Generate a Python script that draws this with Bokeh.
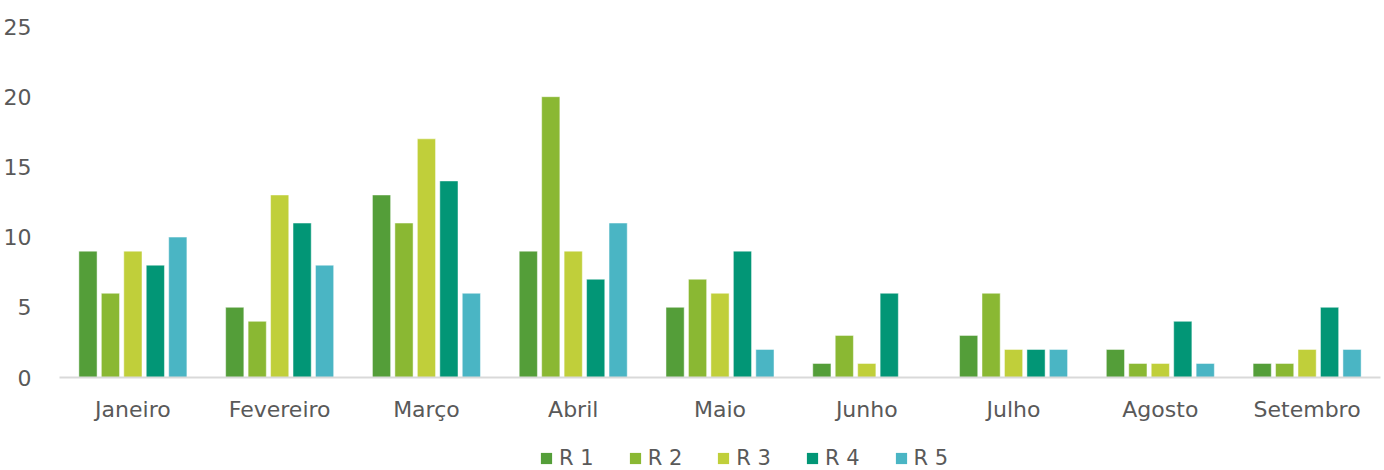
from bokeh.plotting import figure
from bokeh.models import FactorRange, Legend, LegendItem, ColumnDataSource
from bokeh.layouts import column
from bokeh.transform import dodge
from bokeh.embed import file_html
from bokeh.resources import INLINE

months = ["Janeiro", "Fevereiro", "Março", "Abril", "Maio", "Junho", "Julho", "Agosto", "Setembro"]
series_names = ["R 1", "R 2", "R 3", "R 4", "R 5"]
r1 = [9, 5, 13, 9, 5, 1, 3, 2, 1]
r2 = [6, 4, 11, 20, 7, 3, 6, 1, 1]
r3 = [9, 13, 17, 9, 6, 1, 2, 1, 2]
r4 = [8, 11, 14, 7, 9, 6, 2, 4, 5]
r5 = [10, 8, 6, 11, 2, 0, 2, 1, 2]
y_ticks = [0, 5, 10, 15, 20, 25]

colors = ["#549E39", "#8AB833", "#C0CF3A", "#029676", "#4AB5C4"]
FONT = "DejaVu Sans"
TXT = "#595959"
FS = "22px"

source = ColumnDataSource(dict(month=months, r1=r1, r2=r2, r3=r3, r4=r4, r5=r5))

p = figure(x_range=FactorRange(*months), y_range=(0, 25), width=1384, height=436,
           output_backend="svg", toolbar_location=None,
           min_border_left=57, min_border_right=4, min_border_top=26, min_border_bottom=59)
p.outline_line_color = None
p.xgrid.grid_line_color = None
p.ygrid.grid_line_color = None
p.x_range.range_padding = 0
p.y_range.start = 0
p.y_range.end = 25

offsets = [-0.306, -0.153, 0.0, 0.153, 0.306]
keys = ["r1", "r2", "r3", "r4", "r5"]
for k, off, c in zip(keys, offsets, colors):
    p.vbar(x=dodge("month", off, range=p.x_range), top=k, width=0.124, source=source,
           fill_color=c, line_color="white", line_alpha=0.6, line_width=0.8)

p.yaxis.ticker = y_ticks
p.yaxis.axis_line_color = None
p.yaxis.major_tick_line_color = None
p.yaxis.minor_tick_line_color = None
p.yaxis.major_label_text_font = FONT
p.yaxis.major_label_text_font_size = FS
p.yaxis.major_label_text_color = TXT
p.yaxis.major_label_standoff = 22

p.xaxis.axis_line_color = "#D9D9D9"
p.xaxis.axis_line_width = 2
p.xaxis.major_tick_line_color = None
p.xaxis.minor_tick_line_color = None
p.xaxis.major_label_text_font = FONT
p.xaxis.major_label_text_font_size = FS
p.xaxis.major_label_text_color = TXT
p.xaxis.major_label_standoff = 13

# legend strip
lf = figure(width=1384, height=34, x_range=(0, 1), y_range=(0, 1),
            x_axis_type=None, y_axis_type=None, output_backend="svg", toolbar_location=None,
            min_border_left=0, min_border_right=0, min_border_top=0, min_border_bottom=0)
lf.outline_line_color = None
lf.xgrid.grid_line_color = None
lf.ygrid.grid_line_color = None
dummy = ColumnDataSource(dict(x=[-10.0], top=[0.0]))
leg_renderers = [lf.vbar(x="x", top="top", width=0.1, source=dummy, fill_color=c, line_color=None)
                 for c in colors]
legend = Legend(items=[LegendItem(label=n, renderers=[r]) for n, r in zip(series_names, leg_renderers)],
                orientation="horizontal", location=(480, 0),
                label_text_font=FONT, label_text_font_size="21px", label_text_color=TXT,
                glyph_width=14, glyph_height=14, label_standoff=6, spacing=34,
                border_line_color=None, background_fill_alpha=0, padding=0, margin=0)
lf.add_layout(legend, "center")

layout = column(p, lf, spacing=0)
open("out.html", "w").write(file_html(layout, INLINE))
